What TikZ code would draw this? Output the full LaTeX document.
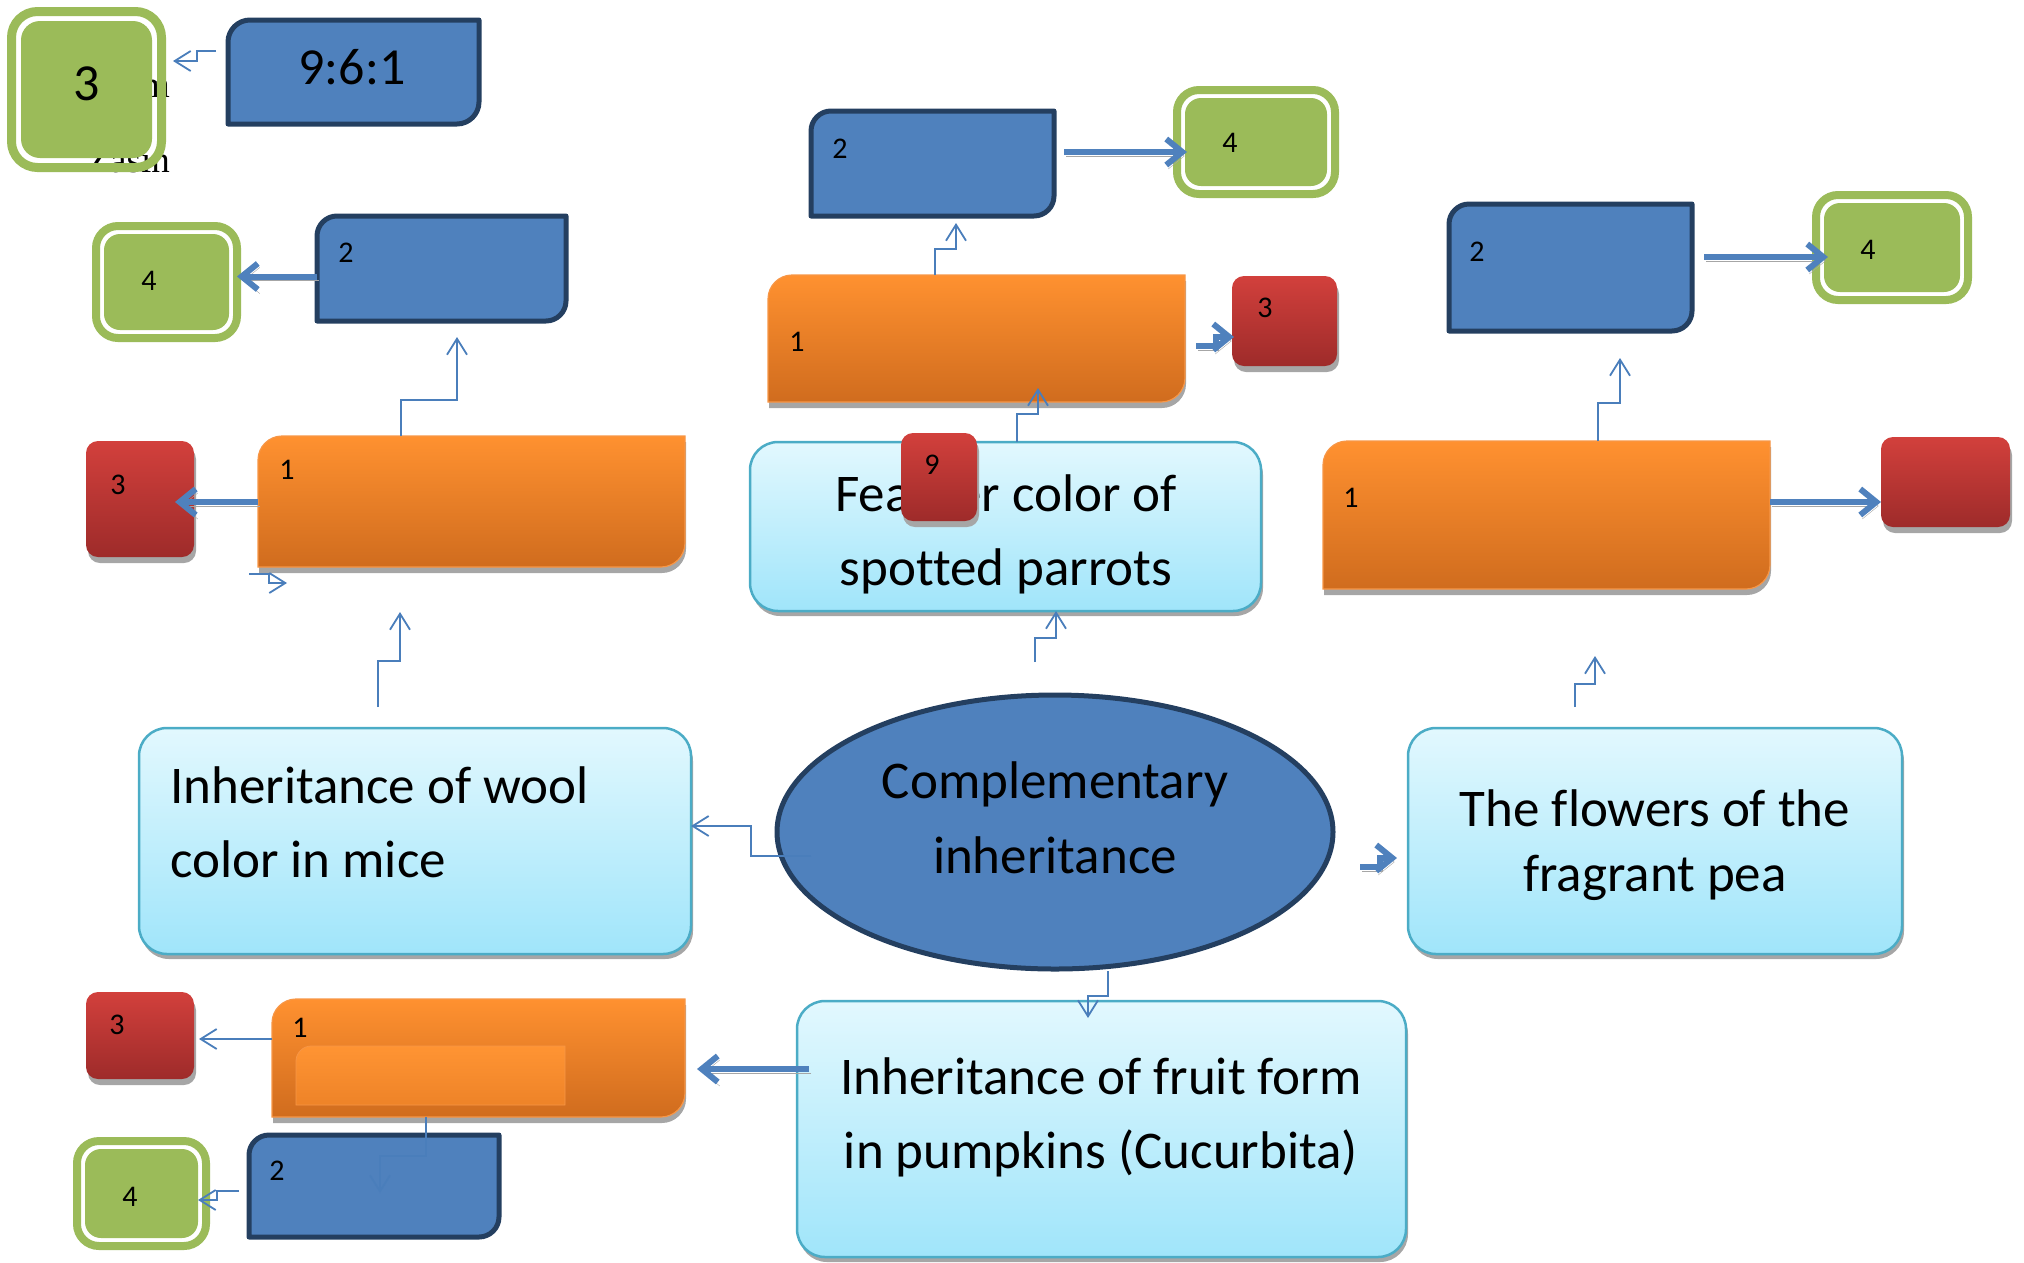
\documentclass[tikz,border=0pt]{standalone}
\usepackage{fontspec}
\setmainfont{Carlito}[Ligatures=NoCommon]
\newfontfamily\fragfont{Liberation Serif}
\usetikzlibrary{arrows.meta,shapes.geometric,shadows,calc}

\definecolor{bfill}{HTML}{4F81BD}
\definecolor{bline}{HTML}{243F60}
\definecolor{otop}{HTML}{FF9130}
\definecolor{obot}{HTML}{D06C1E}
\definecolor{oedge}{HTML}{F79646}
\definecolor{oitop}{HTML}{FF9433}
\definecolor{oibot}{HTML}{EE8328}
\definecolor{rtop}{HTML}{D2403C}
\definecolor{rbot}{HTML}{9E2B2A}
\definecolor{gfill}{HTML}{9BBB59}
\definecolor{ltop}{HTML}{E2F8FE}
\definecolor{lbot}{HTML}{A0E5FA}
\definecolor{ledge}{HTML}{4BACC6}
\definecolor{conn}{HTML}{4A7EBB}
\definecolor{shd}{HTML}{A6A6A6}

\newcommand\geo[6]{\node[#1, anchor=north west, inner sep=0pt, outer sep=0pt,
  minimum width={#5-#3}, minimum height={#6-#4}] (#2) at (#3,#4) {};}

\newcommand\diagshape[3]{%
  \path[#2] (#1.south west)
   -- ([yshift=-#3]#1.north west)
   .. controls ([yshift=-0.45*#3]#1.north west) and ([xshift=0.45*#3]#1.north west) .. ([xshift=#3]#1.north west)
   -- (#1.north east)
   -- ([yshift=#3]#1.south east)
   .. controls ([yshift=0.45*#3]#1.south east) and ([xshift=-0.45*#3]#1.south east) .. ([xshift=-#3]#1.south east)
   -- cycle;}

\tikzset{
  geob/.style={draw=none},
  bluediag/.style={fill=bfill, draw=bline, line width=5pt, line join=round},
  orangediag/.style={top color=otop, bottom color=obot, draw=oedge, line width=1.2pt,
     drop shadow={shadow xshift=1pt, shadow yshift=-6pt, opacity=1, fill=shd}},
  redbox/.style={rounded corners=12pt, top color=rtop, bottom color=rbot,
     drop shadow={shadow xshift=2pt, shadow yshift=-6pt, opacity=1, fill=shd}},
  grbox/.style={rounded corners=22pt, draw=gfill, line width=8pt,
     path picture={\fill[gfill, rounded corners=16pt]
        ([shift={(8pt,-8pt)}]path picture bounding box.north west) rectangle
        ([shift={(-8pt,8pt)}]path picture bounding box.south east);}},
  grbig/.style={rounded corners=26pt, draw=gfill, line width=9pt,
     path picture={\fill[gfill, rounded corners=19pt]
        ([shift={(9.5pt,-9.5pt)}]path picture bounding box.north west) rectangle
        ([shift={(-9.5pt,9.5pt)}]path picture bounding box.south east);}},
  lbox/.style={rounded corners=28pt, top color=ltop, bottom color=lbot, draw=ledge, line width=2.5pt,
     drop shadow={shadow xshift=2pt, shadow yshift=-5pt, opacity=1, fill=shd}},
  ellip/.style={ellipse, fill=bfill, draw=bline, line width=5pt, inner sep=0pt,
     minimum width=556pt, minimum height=274pt},
  txt/.style={font=\fontsize{53}{60}\selectfont, inner sep=0pt, anchor=base},
  lbl/.style={font=\fontsize{30}{34}\selectfont, inner sep=0pt},
  hugetxt/.style={font=\fontsize{52}{60}\selectfont, inner sep=0pt},
  frag/.style={font=\fontsize{37}{40}\fragfont, inner sep=0pt},
  cn/.style={draw=conn, line width=1.8pt, line join=miter, -{Straight Barb[length=16pt,width=20pt]}},
  tk/.style={draw=bfill, line width=6pt, -{Straight Barb[length=16pt,width=26pt]},
     preaction={draw=shd, transform canvas={xshift=2pt,yshift=-4pt}}},
}

\begin{document}
\begin{tikzpicture}[x=1pt,y=-1pt]
\useasboundingbox (0,0) rectangle (2024,1262);

% --- top-left fragments and 9:6:1 ---
\node[frag, anchor=base east] (fragA) at (170,97) {m};
\node[frag, anchor=base east] (fragB) at (170,172) {Zasin};
\geo{grbig}{G0}{11.5}{11.5}{161.5}{167.5}
\node[hugetxt] (G0t) at (87,84) {3};
\geo{geob}{B0}{228}{20}{479}{124}
\diagshape{B0}{bluediag}{22pt}
\node[hugetxt] (B0t) at (352,67) {9:6:1};

% --- left column ---
\geo{grbox}{G1}{96}{226}{237}{338}
\node[lbl] (G1t) at (149,281) {4};
\geo{geob}{B1}{317}{216}{566}{321}
\diagshape{B1}{bluediag}{20pt}
\node[lbl] (B1t) at (346,253) {2};
\geo{geob}{O1}{258}{436}{685}{567}
\diagshape{O1}{orangediag}{24pt}
\node[lbl] (O1t) at (287,470) {1};
\geo{redbox}{R1}{86}{441}{194}{557}
\node[lbl] (R1t) at (118,485) {3};

\geo{lbox}{W}{139}{728}{691}{954}
\node[txt, anchor=base west] (W1) at (170,803) {Inheritance of wool};
\node[txt, anchor=base west] (W2) at (170,877) {color in mice};

% --- centre ---
\node[ellip] (E) at (1055,832) {};
\node[txt] (E1) at (1055,798) {Complementary};
\node[txt] (E2) at (1055,873) {inheritance};

\geo{lbox}{P}{1408}{728}{1902}{954}
\node[txt] (P1) at (1655,826) {The flowers of the};
\node[txt] (P2) at (1655,891) {fragrant pea};

% --- right column ---
\geo{geob}{O2}{1323}{441}{1770}{589}
\diagshape{O2}{orangediag}{24pt}
\node[lbl] (O2t) at (1351,498) {1};
\geo{redbox}{R2}{1881}{437}{2010}{527}
\geo{geob}{B2}{1449}{204}{1692}{331}
\diagshape{B2}{bluediag}{20pt}
\node[lbl] (B2t) at (1477,252) {2};
\geo{grbox}{G2}{1816}{195}{1968}{300}
\node[lbl] (G2t) at (1868,250) {4};

% --- middle column ---
\geo{geob}{B3}{811}{111}{1054}{216}
\diagshape{B3}{bluediag}{20pt}
\node[lbl] (B3t) at (840,149) {2};
\geo{grbox}{G3}{1177}{90}{1335}{194}
\node[lbl] (G3t) at (1230,143) {4};
\geo{geob}{O3}{768}{275}{1185}{402}
\diagshape{O3}{orangediag}{24pt}
\node[lbl] (O3t) at (797,342) {1};
\geo{redbox}{R3}{1232}{276}{1337}{366}
\node[lbl] (R3t) at (1265,308) {3};
\geo{lbox}{F}{750}{442}{1261}{611}
\node[txt] (F1) at (1006,511) {Feather color of};
\node[txt] (F2) at (1006,585) {spotted parrots};
\geo{redbox}{R9}{901}{433}{977}{521}
\node[lbl] (R9t) at (932,465) {9};

% --- bottom ---
\geo{lbox}{K}{797}{1001}{1406}{1257}
\node[txt] (K1) at (1101,1094) {Inheritance of fruit form};
\node[txt] (K2) at (1101,1168) {in pumpkins (Cucurbita)};
\geo{geob}{O4}{272}{999}{685}{1117}
\diagshape{O4}{orangediag}{24pt}
\path[top color=oitop, bottom color=oibot, draw=oedge, line width=0.8pt]
  (296,1105) -- (296,1061) .. controls (296,1053) and (303,1046) .. (311,1046)
  -- (565,1046) -- (565,1105) -- cycle;
\node[lbl] (O4t) at (300,1028) {1};
\geo{redbox}{R4}{86}{992}{194}{1079}
\node[lbl] (R4t) at (117,1025) {3};
\geo{geob}{B4}{249}{1135}{499}{1237}
\diagshape{B4}{bluediag}{20pt}
\node[lbl] (B4t) at (277,1171) {2};
\geo{grbox}{G4}{77}{1141}{206}{1246}
\node[lbl] (G4t) at (130,1197) {4};

% --- free ends of connectors ---
\coordinate (c0s) at (216,51);   \coordinate (c0t) at (173,61);
\coordinate (c1t) at (457,337);
\coordinate (c2s) at (249,574);  \coordinate (c2t) at (287,583);
\coordinate (c3s) at (378,707);  \coordinate (c3t) at (400,612);
\coordinate (c4s) at (811,856);
\coordinate (c5s) at (1035,662);
\coordinate (c6t) at (1038,388);
\coordinate (c7t) at (956,223);
\coordinate (c8s) at (1108,971);
\coordinate (c9t) at (199,1039);
\coordinate (c10t) at (380,1193);
\coordinate (c11s) at (239,1191); \coordinate (c11t) at (198,1200);
\coordinate (c12s) at (1575,707); \coordinate (c12t) at (1595,656);
\coordinate (c13t) at (1620,358);
\coordinate (t1t) at (1234,337);
\coordinate (t2s) at (1360,867); \coordinate (t2t) at (1397,858);

% --- thin connectors ---
\draw[cn] (c0s) -- (197,51) |- (c0t);
\draw[cn] ([xshift=143pt]O1.north west) -- ++(0,-36) -| (c1t);
\draw[cn] (c2s) -- (269,574) |- (c2t);
\draw[cn] (c3s) -- ++(0,-46) -| (c3t);
\draw[cn] (c4s) -- ++(-60,0) |- ([yshift=15pt]W.east);
\draw[cn] (c5s) -- ++(0,-24) -| ([xshift=306pt]F.south west);
\draw[cn] ([xshift=267pt]F.north west) -- ++(0,-28) -| (c6t);
\draw[cn] ([xshift=167pt]O3.north west) -- ++(0,-26) -| (c7t);
\draw[cn] (c8s) -- ++(0,25) -| ([xshift=291pt, yshift=-17pt]K.north west);
\draw[cn] ([yshift=-40pt]O4.north west) -- (c9t);
\draw[cn] ([xshift=154pt]O4.south west) -- ++(0,39) -| (c10t);
\draw[cn] (c11s) -- (217,1191) |- (c11t);
\draw[cn] (c12s) -- ++(0,-23) -| (c12t);
\draw[cn] ([xshift=275pt]O2.north west) -- ++(0,-38) -| (c13t);

% --- thick arrows ---
\draw[tk] ([yshift=-8pt]B1.west) -- ([yshift=-8pt]B1.west -| G1.east);
\draw[tk] ([yshift=-66pt]O1.north west) -- (175,502);
\draw[tk] ([xshift=10pt,yshift=-41pt]B3.north east) -- ([xshift=10pt,yshift=-41pt]B3.north east -| G3.west);
\draw[tk] ([xshift=11pt,yshift=-71pt]O3.north east) -- (1216,346) |- (t1t);
\draw[tk] ([xshift=12pt,yshift=-53pt]B2.north east) -- ([xshift=12pt,yshift=-53pt]B2.north east -| G2.west);
\draw[tk] ([yshift=-61pt]O2.north east) -- ([yshift=-61pt]O2.north east -| R2.west);
\draw[tk] (t2s) -- (1380,867) |- (t2t);
\draw[tk] ([xshift=12pt,yshift=-68pt]K.north west) -- ([xshift=12pt,yshift=-68pt]K.north west -| O4.east);
\end{tikzpicture}
\end{document}
